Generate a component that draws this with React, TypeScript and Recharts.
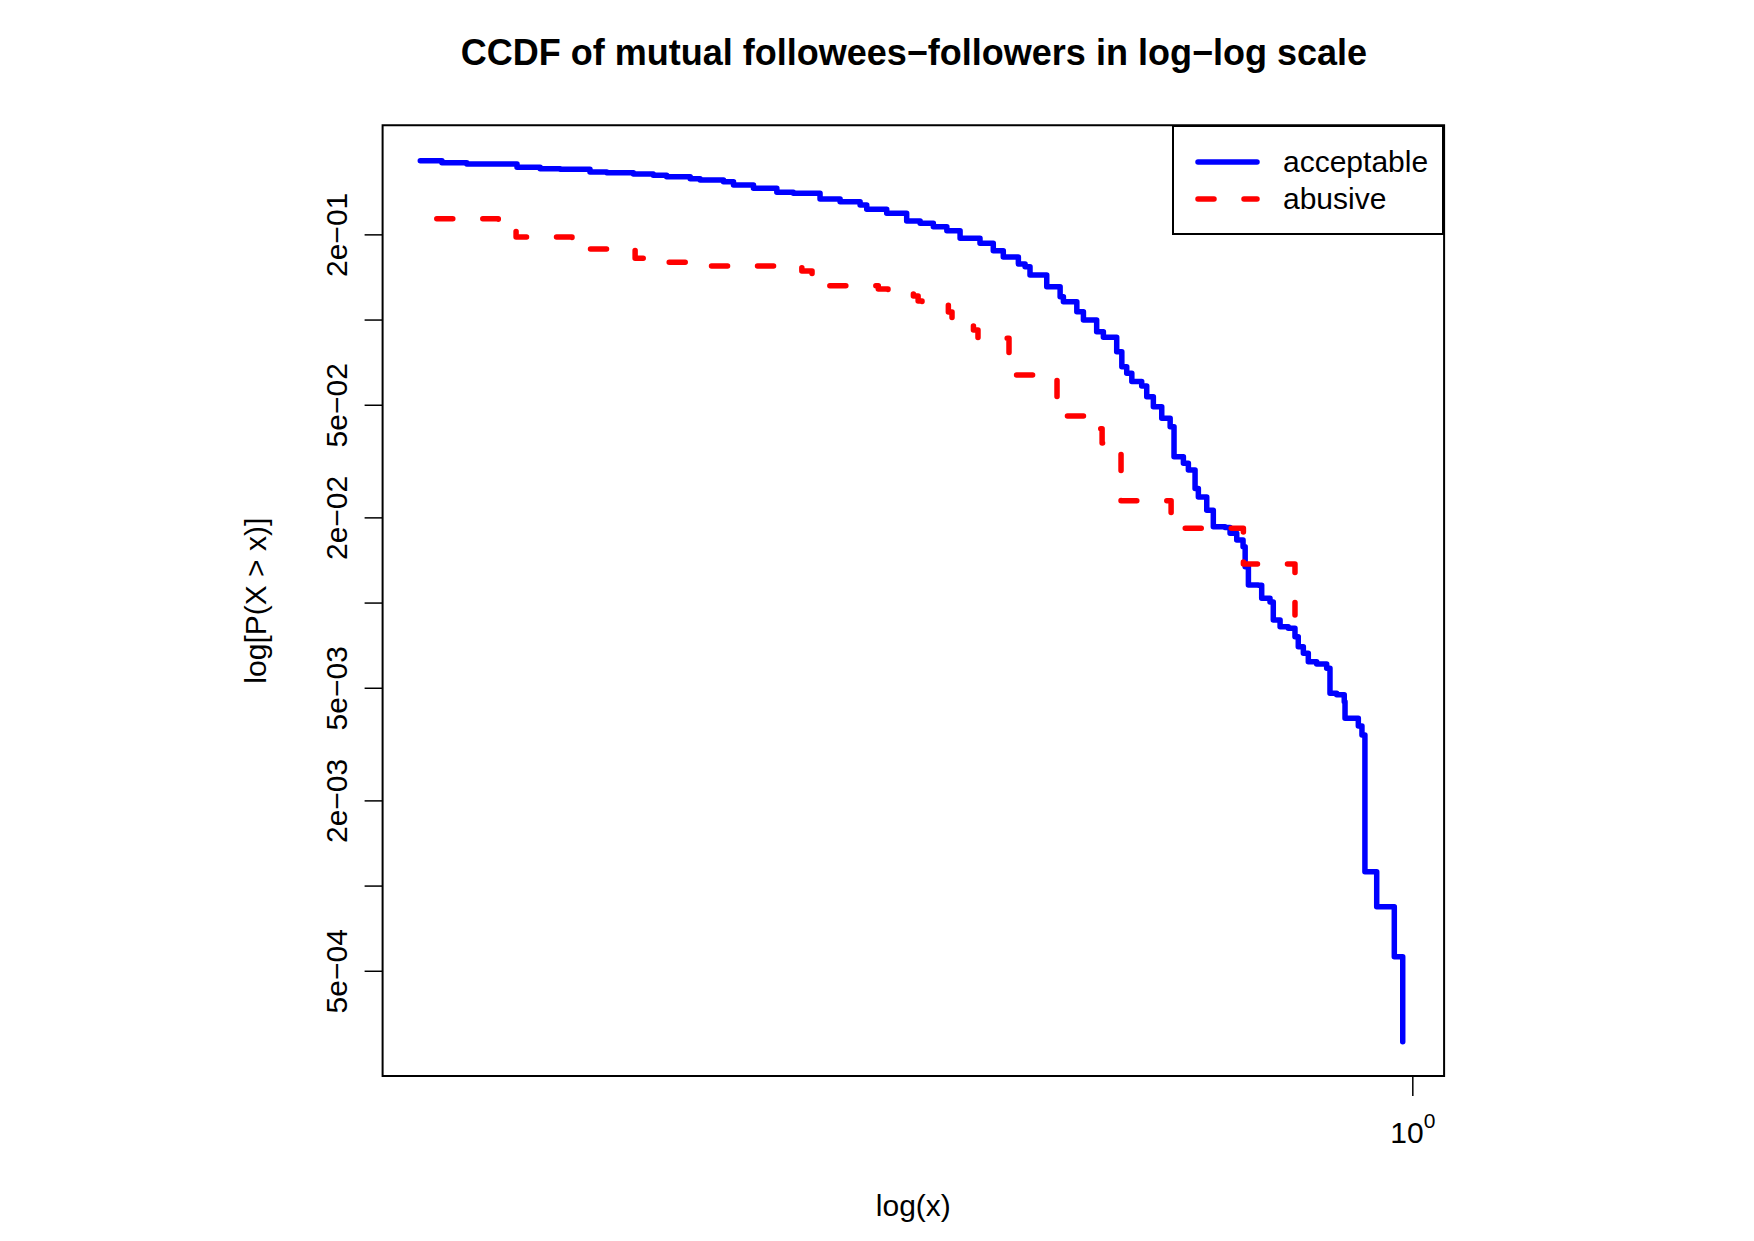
import React from 'react';
import { LineChart, Line, XAxis, YAxis, Legend, ReferenceArea } from 'recharts';

// CCDF of mutual followees-followers, one step curve per class
const acceptableX = [
  0.1252, 0.1310, 0.1380, 0.1533, 0.1609, 0.1678, 0.1786, 0.1850, 0.1956, 0.2039,
  0.2097, 0.2203, 0.2249, 0.2362, 0.2412, 0.2515, 0.2641, 0.2734, 0.2891, 0.3015,
  0.3144, 0.3188, 0.3324, 0.3466, 0.3565, 0.3665, 0.3770,
  0.3876, 0.4041, 0.4155, 0.4243, 0.4379, 0.4441, 0.4487, 0.4647, 0.4779, 0.4812,
  0.4949, 0.5018, 0.5159, 0.5232, 0.5380, 0.5438, 0.5494, 0.5553, 0.5669, 0.5729,
  0.5809, 0.5912, 0.6017, 0.6066, 0.6186, 0.6251, 0.6339, 0.6383, 0.6496, 0.6586,
  0.6750, 0.6821, 0.6917, 0.7009, 0.7040, 0.7088, 0.7236, 0.7288, 0.7416, 0.7467,
  0.7574, 0.7705, 0.7814, 0.7868, 0.7952, 0.8035, 0.8177, 0.8350, 0.8408, 0.8527,
  0.8663, 0.8677, 0.8922, 0.8990, 0.9046, 0.9272, 0.9620, 0.9791,
];
const acceptableY = [
  0.3658, 0.3599, 0.3561, 0.3466, 0.3427, 0.3410, 0.3337, 0.3317, 0.3282, 0.3248,
  0.3211, 0.3159, 0.3126, 0.3083, 0.3001, 0.2922, 0.2828, 0.2805, 0.2678, 0.2620,
  0.2551, 0.2463, 0.2384, 0.2239, 0.2198, 0.2138, 0.2069,
  0.1945, 0.1868, 0.1759, 0.1671, 0.1578, 0.1544, 0.1443, 0.1312, 0.1210, 0.1161,
  0.1070, 0.1001, 0.0910, 0.0869, 0.0773, 0.0684, 0.0649, 0.0606, 0.0585, 0.0536,
  0.0494, 0.0450, 0.0420, 0.0329, 0.0312, 0.0295, 0.0254, 0.0237, 0.0213, 0.0186,
  0.0185, 0.01765, 0.0167, 0.0158, 0.01345, 0.01158, 0.01155, 0.01039, 0.01009, 0.00871,
  0.00825, 0.00815, 0.00761, 0.00701, 0.00665, 0.00621, 0.00609, 0.00588, 0.0048, 0.00474,
  0.00448, 0.00392, 0.00368, 0.00342, 0.001124, 0.000846, 0.000563, 0.000282,
];

const abusiveX = [
  0.1296, 0.1474, 0.1530, 0.1720, 0.1768, 0.1963, 0.2059, 0.2249, 0.2783, 0.2843,
  0.2909, 0.3266, 0.3333, 0.3515, 0.3550, 0.3579, 0.3782, 0.3811, 0.3986, 0.4024,
  0.4294, 0.4748, 0.5035, 0.5218, 0.5429, 0.6029, 0.7014, 0.7814,
];
const abusiveY = [
  0.2281, 0.2185, 0.1966, 0.1903, 0.1783, 0.1653, 0.1600, 0.1553, 0.1491, 0.1443,
  0.1323, 0.1288, 0.1260, 0.1217, 0.1168, 0.1140, 0.1068, 0.1001, 0.0923, 0.0862,
  0.0640, 0.0458, 0.0413, 0.0368, 0.0230, 0.01838, 0.01374, 0.00908,
];

const seriesNames = ['acceptable', 'abusive'];
const seriesColors = ['#0000ff', '#ff0000'];

const yTicks = [0.2, 0.1, 0.05, 0.02, 0.01, 0.005, 0.002, 0.001, 0.0005];
const yTickLabels = ['2e\u221201', '', '5e\u221202', '2e\u221202', '', '5e\u221203', '2e\u221203', '', '5e\u221204'];
const xTicks = [1];
const xTickExponents = ['0'];

const X_DOMAIN = [0.1157, 1.0677];
const Y_DOMAIN = [0.0002131, 0.4877];

const FONT = '"Liberation Sans", Arial, Helvetica, sans-serif';
const W = 1754;
const H = 1241;
const LINE_W = 5.5;
const DASH = '16 30';

const acceptable = acceptableX.map((x, i) => ({ x, y: acceptableY[i] }));
const abusive = abusiveX.map((x, i) => ({ x, y: abusiveY[i] }));

const YTick = ({ x, y, payload }: any) => {
  const label = yTickLabels[yTicks.indexOf(payload.value)];
  if (!label) return <g />;
  return (
    <text x={x} y={y} transform={`rotate(-90 ${x} ${y})`} textAnchor="middle"
      fontSize={30} fontFamily={FONT} fill="#000">
      {label}
    </text>
  );
};

const XTick = ({ x, y, payload }: any) => {
  const exp = xTickExponents[xTicks.indexOf(payload.value)];
  return (
    <text x={x} y={y + 47} textAnchor="middle" fontSize={30} fontFamily={FONT} fill="#000">
      <tspan>10</tspan>
      <tspan dy={-15} fontSize={21}>{exp}</tspan>
    </text>
  );
};

const XTitle = ({ viewBox }: any) => (
  <text x={viewBox.x + viewBox.width / 2} y={viewBox.y + 140} textAnchor="middle"
    fontSize={30} fontFamily={FONT} fill="#000">
    log(x)
  </text>
);

const YTitle = ({ viewBox }: any) => {
  const x = viewBox.x + viewBox.width - 116.6;
  const y = viewBox.y + viewBox.height / 2;
  return (
    <text x={x} y={y} transform={`rotate(-90 ${x} ${y})`} textAnchor="middle"
      fontSize={30} fontFamily={FONT} fill="#000">
      log[P(X &gt; x)]
    </text>
  );
};

// legend box in the top-right corner of the plot, R style
const LegendBox = () => (
  <svg width={272} height={110} style={{ display: 'block' }}>
    <rect x={1} y={1} width={270} height={108} fill="#fff" stroke="#000" strokeWidth={2} />
    {seriesNames.map((name, i) => (
      <g key={name}>
        <line x1={26} x2={85} y1={37 + i * 37} y2={37 + i * 37}
          stroke={seriesColors[i]} strokeWidth={LINE_W} strokeLinecap="round"
          strokeDasharray={i === 1 ? DASH : undefined} />
        <text x={111} y={47 + i * 36.5} fontSize={30} fontFamily={FONT} fill="#000">{name}</text>
      </g>
    ))}
  </svg>
);

export default function App() {
  return (
    <div style={{ position: 'absolute', left: 0, top: 0, width: W, height: H, background: '#fff' }}>
      <svg width={W} height={100} style={{ position: 'absolute', left: 0, top: 0 }}>
        <text x={913.9} y={64.5} textAnchor="middle" fontSize={36} fontWeight="bold" fontFamily={FONT} fill="#000">
          CCDF of mutual followees{'\u2212'}followers in log{'\u2212'}log scale
        </text>
      </svg>
      <LineChart width={W} height={H} margin={{ top: 125.3, right: 309.9, left: 0, bottom: 0 }}>
        <XAxis dataKey="x" type="number" scale="log" domain={X_DOMAIN} allowDataOverflow
          ticks={xTicks} interval={0} height={164.9} tickSize={20} tickMargin={0}
          axisLine={false} tickLine={{ stroke: '#000', strokeWidth: 1.5 }}
          tick={<XTick />} label={XTitle} />
        <YAxis dataKey="y" type="number" scale="log" domain={Y_DOMAIN} allowDataOverflow
          ticks={yTicks} interval={0} width={382.6} tickSize={18} tickMargin={18}
          axisLine={false} tickLine={{ stroke: '#000', strokeWidth: 1.5 }}
          tick={<YTick />} label={YTitle} />
        <ReferenceArea x1={X_DOMAIN[0]} x2={X_DOMAIN[1]} y1={Y_DOMAIN[0]} y2={Y_DOMAIN[1]}
          fill="none" fillOpacity={0} stroke="#000" strokeWidth={2} ifOverflow="visible" />
        <Line data={acceptable} dataKey="y" name={seriesNames[0]} type="stepAfter"
          stroke={seriesColors[0]} strokeWidth={LINE_W} strokeLinecap="round" strokeLinejoin="round"
          dot={false} activeDot={false} isAnimationActive={false} />
        <Line data={abusive} dataKey="y" name={seriesNames[1]} type="stepAfter"
          stroke={seriesColors[1]} strokeWidth={LINE_W} strokeLinecap="round" strokeLinejoin="round"
          strokeDasharray={DASH} dot={false} activeDot={false} isAnimationActive={false} />
        <Legend layout="horizontal" verticalAlign="middle" align="center"
          wrapperStyle={{ left: 1172.3, top: 125.3, width: 272, height: 110 }}
          content={LegendBox} />
      </LineChart>
    </div>
  );
}
